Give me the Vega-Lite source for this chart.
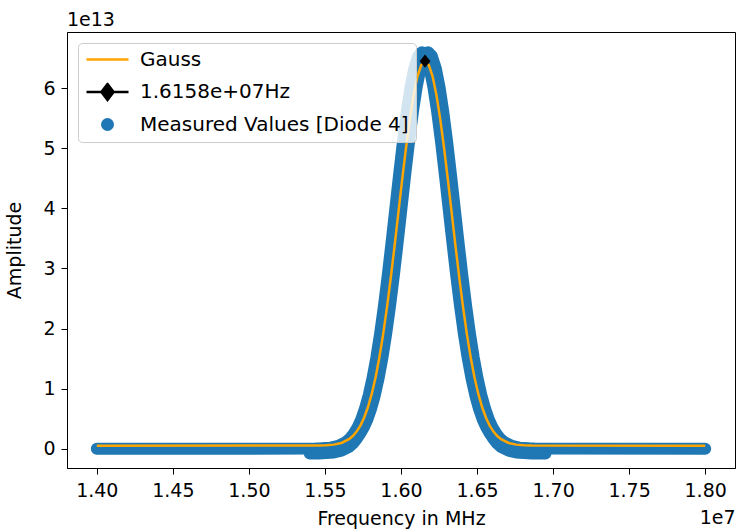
{
  "$schema": "https://vega.github.io/schema/vega-lite/v6.json",
  "width": 668,
  "height": 436,
  "autosize": {"type": "none"},
  "padding": {"left": 67, "top": 32, "right": 1, "bottom": 61},
  "background": "white",
  "title": {"text": "1e13", "anchor": "start", "frame": "group", "fontSize": 19, "fontWeight": "normal", "font": "DejaVu Sans", "color": "#000", "offset": 2},
  "datasets": {
    "measured": [
      {"s": "A", "x": 14000000, "y": 0},
      {"s": "A", "x": 15438000, "y": 0.002e13},
      {"s": "A", "x": 15488000, "y": 0.007e13},
      {"s": "A", "x": 15538000, "y": 0.018e13},
      {"s": "A", "x": 15588000, "y": 0.047e13},
      {"s": "A", "x": 15638000, "y": 0.111e13},
      {"s": "A", "x": 15663000, "y": 0.166e13},
      {"s": "A", "x": 15688000, "y": 0.242e13},
      {"s": "A", "x": 15713000, "y": 0.346e13},
      {"s": "A", "x": 15738000, "y": 0.484e13},
      {"s": "A", "x": 15763000, "y": 0.664e13},
      {"s": "A", "x": 15788000, "y": 0.893e13},
      {"s": "A", "x": 15813000, "y": 1.177e13},
      {"s": "A", "x": 15838000, "y": 1.518e13},
      {"s": "A", "x": 15863000, "y": 1.920e13},
      {"s": "A", "x": 15888000, "y": 2.379e13},
      {"s": "A", "x": 15913000, "y": 2.888e13},
      {"s": "A", "x": 15938000, "y": 3.435e13},
      {"s": "A", "x": 15963000, "y": 4.003e13},
      {"s": "A", "x": 15988000, "y": 4.571e13},
      {"s": "A", "x": 16013000, "y": 5.114e13},
      {"s": "A", "x": 16038000, "y": 5.606e13},
      {"s": "A", "x": 16063000, "y": 6.021e13},
      {"s": "A", "x": 16088000, "y": 6.336e13},
      {"s": "A", "x": 16113000, "y": 6.533e13},
      {"s": "A", "x": 16138000, "y": 6.600e13},
      {"s": "A", "x": 16163000, "y": 6.533e13},
      {"s": "A", "x": 16188000, "y": 6.336e13},
      {"s": "A", "x": 16213000, "y": 6.021e13},
      {"s": "A", "x": 16238000, "y": 5.606e13},
      {"s": "A", "x": 16263000, "y": 5.114e13},
      {"s": "A", "x": 16288000, "y": 4.571e13},
      {"s": "A", "x": 16313000, "y": 4.003e13},
      {"s": "A", "x": 16338000, "y": 3.435e13},
      {"s": "A", "x": 16363000, "y": 2.888e13},
      {"s": "A", "x": 16388000, "y": 2.379e13},
      {"s": "A", "x": 16413000, "y": 1.920e13},
      {"s": "A", "x": 16438000, "y": 1.518e13},
      {"s": "A", "x": 16463000, "y": 1.177e13},
      {"s": "A", "x": 16488000, "y": 0.893e13},
      {"s": "A", "x": 16513000, "y": 0.664e13},
      {"s": "A", "x": 16538000, "y": 0.484e13},
      {"s": "A", "x": 16563000, "y": 0.346e13},
      {"s": "A", "x": 16588000, "y": 0.242e13},
      {"s": "A", "x": 16613000, "y": 0.166e13},
      {"s": "A", "x": 16638000, "y": 0.111e13},
      {"s": "A", "x": 16688000, "y": 0.047e13},
      {"s": "A", "x": 16738000, "y": 0.018e13},
      {"s": "A", "x": 16788000, "y": 0.007e13},
      {"s": "A", "x": 16838000, "y": 0.002e13},
      {"s": "B", "x": 15478000, "y": 0.002e13},
      {"s": "B", "x": 15528000, "y": 0.007e13},
      {"s": "B", "x": 15578000, "y": 0.018e13},
      {"s": "B", "x": 15628000, "y": 0.047e13},
      {"s": "B", "x": 15678000, "y": 0.111e13},
      {"s": "B", "x": 15703000, "y": 0.166e13},
      {"s": "B", "x": 15728000, "y": 0.242e13},
      {"s": "B", "x": 15753000, "y": 0.346e13},
      {"s": "B", "x": 15778000, "y": 0.484e13},
      {"s": "B", "x": 15803000, "y": 0.664e13},
      {"s": "B", "x": 15828000, "y": 0.893e13},
      {"s": "B", "x": 15853000, "y": 1.177e13},
      {"s": "B", "x": 15878000, "y": 1.518e13},
      {"s": "B", "x": 15903000, "y": 1.920e13},
      {"s": "B", "x": 15928000, "y": 2.379e13},
      {"s": "B", "x": 15953000, "y": 2.888e13},
      {"s": "B", "x": 15978000, "y": 3.435e13},
      {"s": "B", "x": 16003000, "y": 4.003e13},
      {"s": "B", "x": 16028000, "y": 4.571e13},
      {"s": "B", "x": 16053000, "y": 5.114e13},
      {"s": "B", "x": 16078000, "y": 5.606e13},
      {"s": "B", "x": 16103000, "y": 6.021e13},
      {"s": "B", "x": 16128000, "y": 6.336e13},
      {"s": "B", "x": 16153000, "y": 6.533e13},
      {"s": "B", "x": 16178000, "y": 6.600e13},
      {"s": "B", "x": 16203000, "y": 6.533e13},
      {"s": "B", "x": 16228000, "y": 6.336e13},
      {"s": "B", "x": 16253000, "y": 6.021e13},
      {"s": "B", "x": 16278000, "y": 5.606e13},
      {"s": "B", "x": 16303000, "y": 5.114e13},
      {"s": "B", "x": 16328000, "y": 4.571e13},
      {"s": "B", "x": 16353000, "y": 4.003e13},
      {"s": "B", "x": 16378000, "y": 3.435e13},
      {"s": "B", "x": 16403000, "y": 2.888e13},
      {"s": "B", "x": 16428000, "y": 2.379e13},
      {"s": "B", "x": 16453000, "y": 1.920e13},
      {"s": "B", "x": 16478000, "y": 1.518e13},
      {"s": "B", "x": 16503000, "y": 1.177e13},
      {"s": "B", "x": 16528000, "y": 0.893e13},
      {"s": "B", "x": 16553000, "y": 0.664e13},
      {"s": "B", "x": 16578000, "y": 0.484e13},
      {"s": "B", "x": 16603000, "y": 0.346e13},
      {"s": "B", "x": 16628000, "y": 0.242e13},
      {"s": "B", "x": 16653000, "y": 0.166e13},
      {"s": "B", "x": 16678000, "y": 0.111e13},
      {"s": "B", "x": 16728000, "y": 0.047e13},
      {"s": "B", "x": 16778000, "y": 0.018e13},
      {"s": "B", "x": 16828000, "y": 0.007e13},
      {"s": "B", "x": 16878000, "y": 0.002e13},
      {"s": "B", "x": 18000000, "y": 0},
      {"s": "C", "x": 15400000, "y": -0.080e13},
      {"s": "C", "x": 15458000, "y": -0.078e13},
      {"s": "C", "x": 15508000, "y": -0.073e13},
      {"s": "C", "x": 15558000, "y": -0.062e13},
      {"s": "C", "x": 15608000, "y": -0.033e13},
      {"s": "C", "x": 15658000, "y": 0.031e13},
      {"s": "C", "x": 15683000, "y": 0.086e13},
      {"s": "C", "x": 15708000, "y": 0.162e13},
      {"s": "C", "x": 15733000, "y": 0.266e13},
      {"s": "C", "x": 15758000, "y": 0.404e13},
      {"s": "C", "x": 15783000, "y": 0.584e13},
      {"s": "C", "x": 15808000, "y": 0.813e13},
      {"s": "C", "x": 15833000, "y": 1.097e13},
      {"s": "C", "x": 15858000, "y": 1.438e13},
      {"s": "C", "x": 15883000, "y": 1.840e13},
      {"s": "C", "x": 15908000, "y": 2.299e13},
      {"s": "C", "x": 15933000, "y": 2.808e13},
      {"s": "C", "x": 15958000, "y": 3.355e13},
      {"s": "C", "x": 15983000, "y": 3.923e13},
      {"s": "C", "x": 16008000, "y": 4.491e13},
      {"s": "C", "x": 16033000, "y": 5.034e13},
      {"s": "C", "x": 16058000, "y": 5.526e13},
      {"s": "C", "x": 16083000, "y": 5.941e13},
      {"s": "C", "x": 16108000, "y": 6.256e13},
      {"s": "C", "x": 16133000, "y": 6.453e13},
      {"s": "C", "x": 16158000, "y": 6.520e13},
      {"s": "C", "x": 16183000, "y": 6.453e13},
      {"s": "C", "x": 16208000, "y": 6.256e13},
      {"s": "C", "x": 16233000, "y": 5.941e13},
      {"s": "C", "x": 16258000, "y": 5.526e13},
      {"s": "C", "x": 16283000, "y": 5.034e13},
      {"s": "C", "x": 16308000, "y": 4.491e13},
      {"s": "C", "x": 16333000, "y": 3.923e13},
      {"s": "C", "x": 16358000, "y": 3.355e13},
      {"s": "C", "x": 16383000, "y": 2.808e13},
      {"s": "C", "x": 16408000, "y": 2.299e13},
      {"s": "C", "x": 16433000, "y": 1.840e13},
      {"s": "C", "x": 16458000, "y": 1.438e13},
      {"s": "C", "x": 16483000, "y": 1.097e13},
      {"s": "C", "x": 16508000, "y": 0.813e13},
      {"s": "C", "x": 16533000, "y": 0.584e13},
      {"s": "C", "x": 16558000, "y": 0.404e13},
      {"s": "C", "x": 16583000, "y": 0.266e13},
      {"s": "C", "x": 16608000, "y": 0.162e13},
      {"s": "C", "x": 16633000, "y": 0.086e13},
      {"s": "C", "x": 16658000, "y": 0.031e13},
      {"s": "C", "x": 16708000, "y": -0.033e13},
      {"s": "C", "x": 16758000, "y": -0.062e13},
      {"s": "C", "x": 16808000, "y": -0.073e13},
      {"s": "C", "x": 16858000, "y": -0.078e13},
      {"s": "C", "x": 16950000, "y": -0.080e13}
    ],
    "gauss": [
      {"x": 14000000, "y": 0.050e13},
      {"x": 15458000, "y": 0.052e13},
      {"x": 15508000, "y": 0.056e13},
      {"x": 15558000, "y": 0.068e13},
      {"x": 15608000, "y": 0.096e13},
      {"x": 15658000, "y": 0.158e13},
      {"x": 15683000, "y": 0.211e13},
      {"x": 15708000, "y": 0.285e13},
      {"x": 15733000, "y": 0.385e13},
      {"x": 15758000, "y": 0.520e13},
      {"x": 15783000, "y": 0.694e13},
      {"x": 15808000, "y": 0.916e13},
      {"x": 15833000, "y": 1.191e13},
      {"x": 15858000, "y": 1.522e13},
      {"x": 15883000, "y": 1.912e13},
      {"x": 15908000, "y": 2.357e13},
      {"x": 15933000, "y": 2.850e13},
      {"x": 15958000, "y": 3.381e13},
      {"x": 15983000, "y": 3.932e13},
      {"x": 16008000, "y": 4.483e13},
      {"x": 16033000, "y": 5.009e13},
      {"x": 16058000, "y": 5.486e13},
      {"x": 16083000, "y": 5.889e13},
      {"x": 16108000, "y": 6.194e13},
      {"x": 16133000, "y": 6.385e13},
      {"x": 16158000, "y": 6.450e13},
      {"x": 16183000, "y": 6.385e13},
      {"x": 16208000, "y": 6.194e13},
      {"x": 16233000, "y": 5.889e13},
      {"x": 16258000, "y": 5.486e13},
      {"x": 16283000, "y": 5.009e13},
      {"x": 16308000, "y": 4.483e13},
      {"x": 16333000, "y": 3.932e13},
      {"x": 16358000, "y": 3.381e13},
      {"x": 16383000, "y": 2.850e13},
      {"x": 16408000, "y": 2.357e13},
      {"x": 16433000, "y": 1.912e13},
      {"x": 16458000, "y": 1.522e13},
      {"x": 16483000, "y": 1.191e13},
      {"x": 16508000, "y": 0.916e13},
      {"x": 16533000, "y": 0.694e13},
      {"x": 16558000, "y": 0.520e13},
      {"x": 16583000, "y": 0.385e13},
      {"x": 16608000, "y": 0.285e13},
      {"x": 16633000, "y": 0.211e13},
      {"x": 16658000, "y": 0.158e13},
      {"x": 16708000, "y": 0.096e13},
      {"x": 16758000, "y": 0.068e13},
      {"x": 16808000, "y": 0.056e13},
      {"x": 16858000, "y": 0.052e13},
      {"x": 18000000, "y": 0.050e13}
    ],
    "peak": [
      {"x": 16158000, "y": 6.45e13}
    ]
  },
  "layer": [
    {
      "data": {"name": "measured"},
      "mark": {"type": "line", "strokeWidth": 12, "strokeCap": "round", "strokeJoin": "round", "opacity": 1},
      "encoding": {
        "x": {
          "field": "x", "type": "quantitative",
          "scale": {"domain": [13804000, 18196000], "nice": false, "zero": false},
          "axis": {
            "orient": "bottom",
            "title": "Frequency in MHz",
            "values": [14000000, 14500000, 15000000, 15500000, 16000000, 16500000, 17000000, 17500000, 18000000],
            "labelExpr": "format(datum.value / 1e7, '.2f')",
            "labelFlush": false, "labelOverlap": false,
            "labelPadding": 7,
            "titlePadding": 9
          }
        },
        "y": {
          "field": "y", "type": "quantitative",
          "scale": {"domain": [-0.321e13, 6.936e13], "nice": false, "zero": false},
          "axis": {
            "title": "Amplitude",
            "values": [0, 1e13, 2e13, 3e13, 4e13, 5e13, 6e13],
            "labelExpr": "format(datum.value / 1e13, 'd')",
            "titlePadding": 18
          }
        },
        "detail": {"field": "s"},
        "color": {
          "datum": "Measured Values [Diode 4]",
          "scale": {"domain": ["Gauss", "1.6158e+07Hz", "Measured Values [Diode 4]"], "range": ["#ffa500", "#000000", "#1f77b4"]},
          "legend": {
            "title": null,
            "orient": "top-left",
            "offset": 11,
            "padding": 7,
            "fillColor": "rgba(255,255,255,0.8)",
            "strokeColor": "#cccccc",
            "cornerRadius": 4,
            "symbolSize": 1764,
            "symbolStrokeWidth": 2.5,
            "symbolOpacity": 1,
            "clipHeight": 19,
            "rowPadding": 11.5,
            "labelOffset": 10,
            "labelFontSize": 20,
            "labelFont": "DejaVu Sans",
            "labelColor": "#000",
            "labelLimit": 400
          }
        }
      }
    },
    {
      "data": {"name": "gauss"},
      "mark": {"type": "line", "strokeWidth": 2.5},
      "encoding": {
        "x": {
          "field": "x", "type": "quantitative",
          "axis": {"orient": "bottom", "title": "1e7", "labels": false, "ticks": false, "domain": false, "grid": false, "titleAnchor": "end", "titleAlign": "right", "titlePadding": 40}
        },
        "y": {"field": "y", "type": "quantitative"},
        "color": {"datum": "Gauss"}
      }
    },
    {
      "data": {"name": "peak"},
      "mark": {"type": "point", "shape": "M0,-1.1L0.9,0L0,1.1L-0.9,0Z", "filled": true, "size": 144, "opacity": 1},
      "encoding": {
        "x": {"field": "x", "type": "quantitative", "axis": null},
        "y": {"field": "y", "type": "quantitative"},
        "color": {"datum": "1.6158e+07Hz"}
      }
    },
    {
      "data": {"values": []},
      "mark": {"type": "point", "filled": true, "opacity": 1},
      "encoding": {
        "x": {"field": "x", "type": "quantitative", "axis": null},
        "y": {"field": "y", "type": "quantitative"},
        "color": {"datum": "1.6158e+07Hz"},
        "shape": {
          "datum": "1.6158e+07Hz",
          "scale": {"domain": ["Gauss", "1.6158e+07Hz", "Measured Values [Diode 4]"], "range": ["stroke", "M-1,0L1,0M0,-0.38L0.29,0L0,0.38L-0.29,0Z", "M-0.25,0A0.25,0.25 0 1,0 0.25,0A0.25,0.25 0 1,0 -0.25,0Z"]}
        }
      }
    }
  ],
  "resolve": {"axis": {"x": "independent"}},
  "config": {
    "font": "DejaVu Sans",
    "view": {"stroke": "#000000", "strokeWidth": 1},
    "axis": {
      "labelFont": "DejaVu Sans", "titleFont": "DejaVu Sans",
      "labelFontSize": 19, "titleFontSize": 19, "titleFontWeight": "normal",
      "labelColor": "#000", "titleColor": "#000",
      "tickColor": "#000", "domainColor": "#000",
      "tickSize": 6, "tickWidth": 1, "domainWidth": 1,
      "labelPadding": 6, "grid": false
    }
  }
}
